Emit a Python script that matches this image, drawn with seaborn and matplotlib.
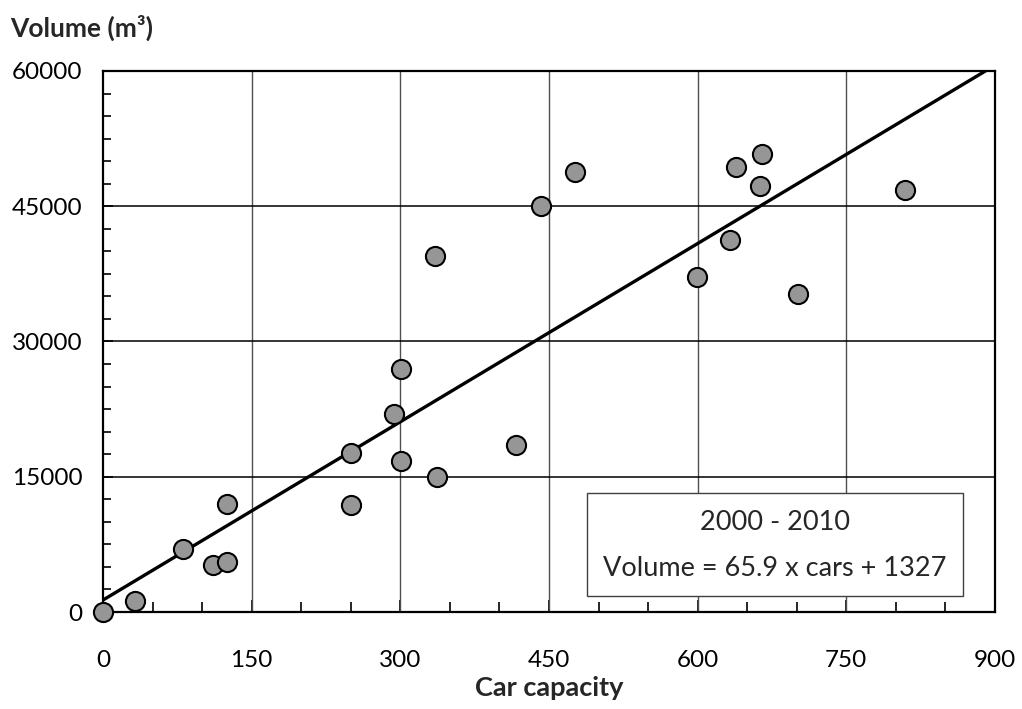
import matplotlib
matplotlib.use("Agg")
import matplotlib.pyplot as plt
from matplotlib.patches import Rectangle
from matplotlib.ticker import MultipleLocator
import numpy as np
import pandas as pd
import seaborn as sns

# car capacity vs volume
cars = [0, 32, 81, 111, 125, 125, 250, 250, 294, 301, 301, 335, 337,
        417, 442, 476, 599, 633, 639, 663, 665, 701, 809]
volume = [0, 1200, 7000, 5200, 5600, 12000, 17600, 11900, 22000, 16700, 26900, 39500, 15000,
          18500, 45000, 48800, 37100, 41300, 49300, 47200, 50800, 35300, 46800]

# fitted line 2000 - 2010
slope = 65.9
intercept = 1327
period = "2000 - 2010"

x_ticks = [0, 150, 300, 450, 600, 750, 900]
y_ticks = [0, 15000, 30000, 45000, 60000]

df = pd.DataFrame({"cars": cars, "volume": volume})
x_end = (y_ticks[-1] - intercept) / slope
fit = pd.DataFrame({"cars": [0, x_end]})
fit["volume"] = slope * fit["cars"] + intercept

sns.set_style("white")
plt.rcParams["font.family"] = ["Lato", "DejaVu Sans"]

fig = plt.figure(figsize=(10.22, 7.09), dpi=100)
ax = fig.add_axes([0.1008, 0.1368, 0.8728, 0.7631])

ax.set_xlim(x_ticks[0], x_ticks[-1])
ax.set_ylim(y_ticks[0], y_ticks[-1])
ax.set_xticks(x_ticks)
ax.set_yticks(y_ticks)
ax.xaxis.set_minor_locator(MultipleLocator(50))
ax.yaxis.set_minor_locator(MultipleLocator(2500))

# grid lines (skip the axis edges)
for xv in x_ticks[1:-1]:
    ax.axvline(xv, color="#505050", lw=1.0, zorder=1)
for yv in y_ticks[1:-1]:
    ax.axhline(yv, color="black", lw=1.1, zorder=1)

sns.lineplot(data=fit, x="cars", y="volume", ax=ax, color="black", lw=2.4, zorder=3)
sns.scatterplot(data=df, x="cars", y="volume", ax=ax, s=190, color="#969696",
                edgecolor="black", linewidth=1.5, zorder=4, clip_on=False)

for side in ["top", "right", "bottom", "left"]:
    ax.spines[side].set_visible(True)
    ax.spines[side].set_color("black")
    ax.spines[side].set_linewidth(1.6)

ax.tick_params(axis="both", which="both", direction="in", colors="black",
               labelsize=17.5, width=1.2, bottom=True, left=True, top=False, right=False)
ax.tick_params(axis="x", which="major", length=9, pad=27)
ax.tick_params(axis="x", which="minor", length=7)
ax.tick_params(axis="y", which="major", length=7, pad=15)
ax.tick_params(axis="y", which="minor", length=6)
ax.set_xlabel("")
ax.set_ylabel("")

# equation box
ax.add_patch(Rectangle((0.5426, 0.0296), 0.4215, 0.190, transform=ax.transAxes,
                       facecolor="white", edgecolor="#404040", lw=1.0, zorder=5))
ax.text(0.753, 0.166, period, transform=ax.transAxes, ha="center", va="center",
        fontsize=19.5, zorder=6)
ax.text(0.753, 0.081, f"Volume = {slope} x cars + {intercept}", transform=ax.transAxes,
        ha="center", va="center", fontsize=19.5, zorder=6)

fig.text(10 / 1022, 1 - 28 / 709, "Volume (m³)", fontsize=19, fontweight="bold",
         ha="left", va="center")
fig.text(549 / 1022, 21 / 709, "Car capacity", fontsize=19.5, fontweight="bold",
         ha="center", va="center")

fig.savefig("out.png", dpi=100)
